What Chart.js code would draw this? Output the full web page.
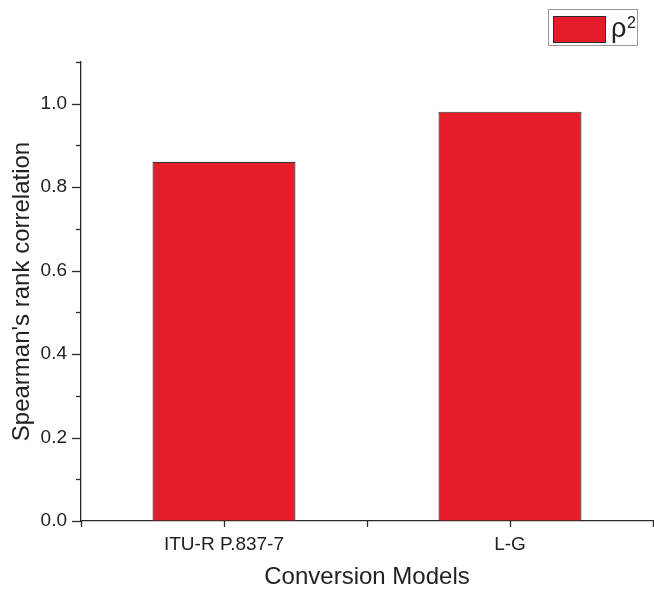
<!DOCTYPE html>
<html>
<head>
<meta charset="utf-8">
<script src="https://cdn.jsdelivr.net/npm/chart.js@4.4.1/dist/chart.umd.min.js"></script>
<style>
html,body{margin:0;padding:0;background:#fff;}
#wrap{width:654px;height:592px;position:relative;}
</style>
</head>
<body>
<div id="wrap"><canvas id="c" width="654" height="592"></canvas></div>
<script>
const categories = ['ITU-R P.837-7', 'L-G'];
const rhoSquared = [0.861, 0.981];
const seriesLabel = 'ρ²';
const xTitle = 'Conversion Models';
const yTitle = "Spearman's rank correlation";
const yMin = 0, yMax = 1.1, yStep = 0.1;

const RED = '#e51d2a';
const AX = '#2b2b2b';
const FONT = "'Liberation Sans', Arial, sans-serif";

const tickMarks = {
  id: 'tickMarks',
  afterDraw(chart) {
    const ctx = chart.ctx;
    const ys = chart.scales.y, xs = chart.scales.x;
    const ca = chart.chartArea;
    ctx.save();
    ctx.strokeStyle = AX;
    ctx.lineWidth = 1.3;
    ys.ticks.forEach(t => {
      const p = Math.round(ys.getPixelForValue(t.value)) + 0.5;
      const major = Math.round(t.value * 10) % 2 === 0;
      const len = major ? 9 : 5;
      ctx.beginPath();
      ctx.moveTo(ca.left - len, p);
      ctx.lineTo(ca.left, p);
      ctx.stroke();
    });
    const pos = [];
    for (let i = -0.5; i <= categories.length - 0.5; i += 0.5) pos.push(i);
    pos.forEach(v => {
      const p = Math.round(xs.getPixelForValue(v)) + 0.5;
      ctx.beginPath();
      ctx.moveTo(p, ca.bottom);
      ctx.lineTo(p, ca.bottom + 6);
      ctx.stroke();
    });
    ctx.restore();

    // legend
    ctx.save();
    ctx.strokeStyle = '#999';
    ctx.lineWidth = 1;
    ctx.strokeRect(548.5, 9.5, 89, 36);
    ctx.fillStyle = chart.data.datasets[0].backgroundColor;
    ctx.fillRect(553, 16, 53, 27);
    ctx.strokeStyle = AX;
    ctx.strokeRect(553.5, 16.5, 52, 26);
    ctx.fillStyle = '#222';
    ctx.textBaseline = 'alphabetic';
    ctx.textAlign = 'left';
    ctx.font = '27px ' + FONT;
    ctx.fillText('ρ', 611, 37);
    ctx.font = '16px ' + FONT;
    ctx.fillText('2', 627, 28);
    ctx.restore();
  }
};

new Chart(document.getElementById('c'), {
  type: 'bar',
  data: {
    labels: categories,
    datasets: [{
      label: seriesLabel,
      data: rhoSquared,
      backgroundColor: RED,
      borderColor: '#333',
      borderWidth: 1.2,
      barPercentage: 1,
      categoryPercentage: 0.5
    }]
  },
  options: {
    responsive: false,
    animation: false,
    devicePixelRatio: 1,
    layout: { padding: { top: 62, right: 1, left: 0, bottom: 0 } },
    plugins: { legend: { display: false }, tooltip: { enabled: false } },
    scales: {
      x: {
        offset: true,
        grid: { display: true, drawOnChartArea: false, drawTicks: true, tickLength: 6, tickColor: 'rgba(0,0,0,0)', color: 'rgba(0,0,0,0)' },
        border: { display: true, color: AX, width: 1.3 },
        ticks: { color: '#222', font: { family: FONT, size: 19 }, padding: 6, maxRotation: 0 },
        title: { display: true, text: xTitle, color: '#222', font: { family: FONT, size: 24, lineHeight: 1.2 }, padding: { top: 0, bottom: 0 } },
        afterFit(s) { s.height = 71; }
      },
      y: {
        min: yMin, max: yMax,
        grid: { display: true, drawOnChartArea: false, drawTicks: true, tickLength: 9, tickColor: 'rgba(0,0,0,0)', color: 'rgba(0,0,0,0)' },
        border: { display: true, color: AX, width: 1.3 },
        ticks: {
          stepSize: yStep,
          color: '#222',
          font: { family: FONT, size: 19 },
          padding: 5,
          callback: v => (Math.round(v * 10) % 2 === 0 ? Number(v).toFixed(1) : '')
        },
        title: { display: true, text: yTitle, color: '#222', font: { family: FONT, size: 24, lineHeight: 1.2 }, padding: { top: 8, bottom: 0 } },
        afterFit(s) { s.width = 81; }
      }
    }
  },
  plugins: [tickMarks]
});
</script>
</body>
</html>
